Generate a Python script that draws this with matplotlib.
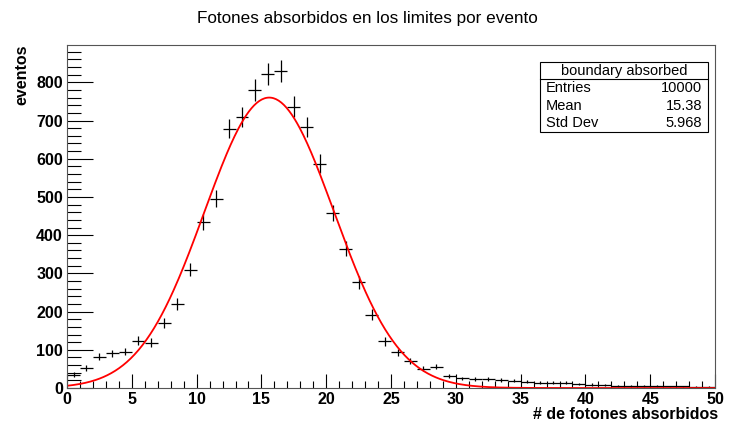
import numpy as np
import matplotlib
matplotlib.use('Agg')
import matplotlib.pyplot as plt
from matplotlib.ticker import MultipleLocator
from matplotlib.patches import Rectangle

plt.rcParams['font.family'] = ['Liberation Sans', 'DejaVu Sans']

# contenido de los bins (ancho 1, de 0 a 50)
bin_centers = np.arange(0.5, 50, 1.0)
counts = [35, 52, 82, 91, 95, 124, 119, 171, 220, 310,
          434, 495, 679, 709, 780, 821, 829, 736, 683, 587,
          458, 365, 277, 192, 122, 93, 71, 51, 56, 31,
          25, 24, 23, 21, 19, 17, 14, 14, 14, 10,
          9, 7, 6, 6, 5, 5, 4, 4, 3, 3]

# parametros del ajuste gaussiano
fit_amp = 760.0
fit_mean = 15.6
fit_sigma = 5.0

stats_title = 'boundary absorbed'
stats_rows = [('Entries', '10000'), ('Mean', '15.38'), ('Std Dev', '5.968')]

fig = plt.figure(figsize=(7.31, 4.23), dpi=100)
ax = fig.add_axes([0.0917, 0.0827, 0.8865, 0.8113])

counts = np.array(counts, dtype=float)
ax.errorbar(bin_centers, counts, xerr=0.5, yerr=np.sqrt(counts), fmt='none',
            ecolor='black', elinewidth=0.9, capsize=0)

xf = np.linspace(0, 50, 500)
yf = fit_amp * np.exp(-0.5 * ((xf - fit_mean) / fit_sigma) ** 2)
ax.plot(xf, yf, color='red', lw=1.3)

ax.set_xlim(0, 50)
ax.set_ylim(0, 898)
ax.xaxis.set_major_locator(MultipleLocator(5))
ax.xaxis.set_minor_locator(MultipleLocator(1))
ax.yaxis.set_major_locator(MultipleLocator(100))
ax.yaxis.set_minor_locator(MultipleLocator(20))
ax.tick_params(which='both', direction='in', top=False, right=False, width=0.8)
ax.tick_params(axis='x', which='major', length=10, labelsize=11.5, pad=3)
ax.tick_params(axis='x', which='minor', length=5)
ax.tick_params(axis='y', which='major', length=19, labelsize=11.5, pad=3)
ax.tick_params(axis='y', which='minor', length=10)
for lab in ax.get_xticklabels() + ax.get_yticklabels():
    lab.set_fontweight('bold')
for sp in ax.spines.values():
    sp.set_linewidth(0.8)
    sp.set_color('#555555')

fig.text(0.503, 1 - 18 / 423, 'Fotones absorbidos en los limites por evento',
         ha='center', va='center', fontsize=12.3)
fig.text(0.982, 1 - 414 / 423, '# de fotones absorbidos', ha='right', va='center',
         fontsize=11.5, fontweight='bold')
fig.text(0.03, 0.894, 'eventos', ha='center', va='top', rotation=90,
         fontsize=11.5, fontweight='bold')

# caja de estadisticas
bx0, bx1 = 540 / 731, 708 / 731
by_top, by_bot = 1 - 62 / 423, 1 - 132 / 423
by_mid = 1 - 79 / 423
fig.patches.append(Rectangle((bx0, by_bot), bx1 - bx0, by_top - by_bot,
                             transform=fig.transFigure, fill=True,
                             facecolor='white', edgecolor='black', lw=0.8))
fig.add_artist(plt.Line2D([bx0, bx1], [by_mid, by_mid], transform=fig.transFigure,
                          color='black', lw=0.8))
fig.text((bx0 + bx1) / 2, (by_top + by_mid) / 2, stats_title, ha='center',
         va='center', fontsize=10.5)
row_h = (by_mid - by_bot) / 3
for i, (name, val) in enumerate(stats_rows):
    yy = by_mid - row_h * (i + 0.5)
    fig.text(bx0 + 0.008, yy, name, ha='left', va='center', fontsize=10.5)
    fig.text(bx1 - 0.008, yy, val, ha='right', va='center', fontsize=10.5)

fig.savefig('out.png', dpi=100)
